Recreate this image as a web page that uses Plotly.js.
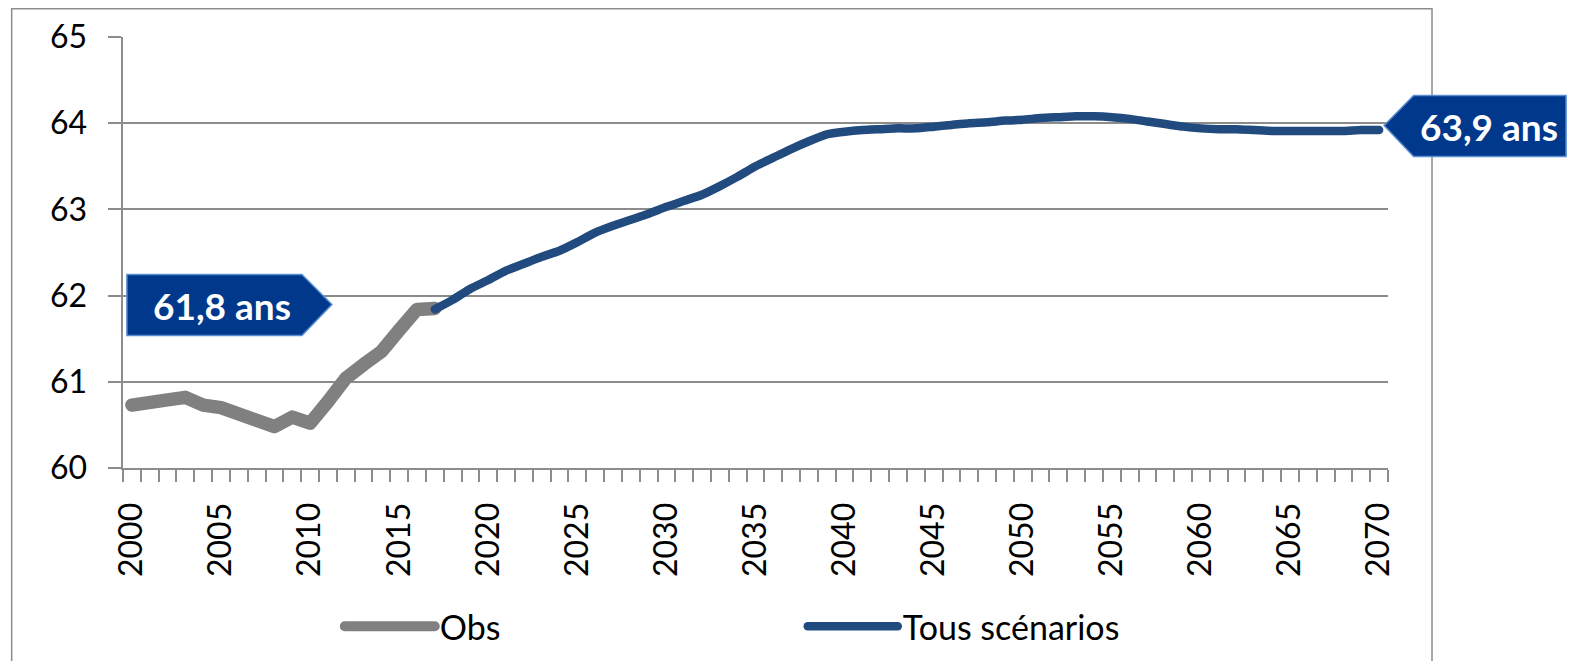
<!DOCTYPE html>
<html>
<head>
<meta charset="utf-8">
<script src="https://cdn.plot.ly/plotly-3.0.1.min.js"></script>
<style>
  html, body { margin: 0; padding: 0; background: #fff; }
  #chart { width: 1579px; height: 661px; }
  .scatterlayer .js-line { stroke-linecap: round; stroke-linejoin: round; }
  .legendlines path { stroke-linecap: round; }
</style>
</head>
<body>
<div id="chart"></div>
<script>
// ---- Data ----
const yearsObs = [2000,2001,2002,2003,2004,2005,2006,2007,2008,2009,2010,2011,2012,2013,2014,2015,2016,2017];
const obsValues = [60.73,60.78,60.79,60.82,60.73,60.70,60.63,60.58,60.48,60.59,60.52,60.77,61.04,61.20,61.35,61.60,61.84,61.85];

const yearsProj = [2017,2018,2019,2020,2021,2022,2023,2024,2025,2026,2027,2028,2029,2030,
  2031,2032,2033,2034,2035,2036,2037,2038,2039,2040,2041,2042,2043,2044,2045,2046,2047,2048,
  2049,2050,2051,2052,2053,2054,2055,2056,2057,2058,2059,2060,2061,2062,2063,2064,2065,2066,
  2067,2068,2069,2070];
const projValues = [61.84,61.95,62.08,62.18,62.29,62.37,62.45,62.52,62.62,62.73,62.81,62.88,62.95,63.03,
  63.10,63.17,63.27,63.38,63.50,63.60,63.70,63.79,63.87,63.90,63.92,63.93,63.94,63.94,63.96,63.98,64.00,64.01,
  64.03,64.04,64.06,64.07,64.08,64.08,64.07,64.05,64.02,63.99,63.96,63.94,63.93,63.93,63.92,63.91,63.91,63.91,
  63.91,63.91,63.92,63.92];

const xTickVals = [2000,2005,2010,2015,2020,2025,2030,2035,2040,2045,2050,2055,2060,2065,2070];
const xTickText = ["2000","2005","2010","2015","2020","2025","2030","2035","2040","2045","2050","2055","2060","2065","2070"];
const yTickVals = [60,61,62,63,64,65];
const yTickText = ["60","61","62","63","64","65"];

const seriesNames = ["Obs", "Tous scénarios"];
const calloutLeft = "61,8 ans";
const calloutRight = "63,9 ans";

// ---- Layout constants ----
const W = 1579, H = 661;
const mL = 123.3, mR = 191, mT = 37.3, mB = 192.7;
const plotW = W - mL - mR, plotH = H - mT - mB;
const xRange = [1999.5, 2070.5];
const yRange = [60, 65];
const px2paperX = p => (p - mL) / plotW;
const px2paperY = p => 1 - (p - mT) / plotH;
const data2paperX = v => (v - xRange[0]) / (xRange[1] - xRange[0]);
const data2paperY = v => (v - yRange[0]) / (yRange[1] - yRange[0]);

const FONT = "Lato, 'Open Sans', sans-serif";
const GRID = "#8c8c8c";
const BOXFILL = "#00388c";
const BOXLINE = "#5a8ed0";

const traces = [
  {
    x: yearsObs, y: obsValues, name: seriesNames[0], type: "scatter", mode: "lines",
    line: { color: "#808080", width: 13.5 }, hoverinfo: "x+y"
  },
  {
    x: yearsProj, y: projValues, name: seriesNames[1], type: "scatter", mode: "lines",
    line: { color: "#214a7e", width: 8.5, shape: "spline", smoothing: 0.5 }, hoverinfo: "x+y"
  }
];

const lastObsY = obsValues[obsValues.length - 1];
const lastProjX = yearsProj[yearsProj.length - 1];
const lastProjY = projValues[projValues.length - 1];

const layout = {
  width: W, height: H,
  margin: { l: mL, r: mR, t: mT, b: mB, pad: 0, autoexpand: false },
  paper_bgcolor: "#ffffff", plot_bgcolor: "#ffffff",
  font: { family: FONT, size: 32, color: "#000000" },
  showlegend: true,
  legend: {
    orientation: "h", x: px2paperX(340), xanchor: "left",
    y: px2paperY(627), yanchor: "middle",
    font: { family: FONT, size: 34, color: "#000" },
    itemwidth: 90, entrywidth: 358, entrywidthmode: "pixels",
    bgcolor: "rgba(0,0,0,0)", traceorder: "normal"
  },
  xaxis: {
    range: xRange, type: "linear", fixedrange: true, automargin: false,
    tickmode: "array", tickvals: xTickVals, ticktext: xTickText,
    tickangle: -90, ticks: "", ticklabelstandoff: 20,
    showgrid: false, zeroline: false,
    showline: true, linecolor: GRID, linewidth: 2,
    tickfont: { family: FONT, size: 32, color: "#000" },
    minor: { ticks: "outside", tick0: 1999.5, dtick: 1, ticklen: 12, tickwidth: 2, tickcolor: GRID, showgrid: false }
  },
  yaxis: {
    range: yRange, fixedrange: true, automargin: false,
    tickmode: "array", tickvals: yTickVals, ticktext: yTickText,
    ticks: "outside", ticklen: 12.6, tickwidth: 2, tickcolor: GRID,
    ticklabelstandoff: 15,
    showgrid: true, gridcolor: GRID, gridwidth: 2,
    zeroline: false, showline: true, linecolor: GRID, linewidth: 2,
    tickfont: { family: FONT, size: 32, color: "#000" }
  },
  shapes: [
    // outer chart border
    {
      type: "rect", xref: "paper", yref: "paper", layer: "below",
      x0: px2paperX(12), x1: px2paperX(1432), y0: px2paperY(700), y1: px2paperY(9),
      line: { color: "#8c8c8c", width: 1.5 }, fillcolor: "rgba(0,0,0,0)"
    },
    // left callout (points right)
    {
      type: "path", xref: "paper", yref: "paper", layer: "above",
      xsizemode: "pixel", ysizemode: "pixel",
      xanchor: data2paperX(yearsObs[0]), yanchor: data2paperY(lastObsY),
      path: "M -5,34 L 170,34 L 200,4 L 170,-27 L -5,-27 Z",
      fillcolor: BOXFILL, line: { color: BOXLINE, width: 1.5 }
    },
    // right callout (points left)
    {
      type: "path", xref: "paper", yref: "paper", layer: "above",
      xsizemode: "pixel", ysizemode: "pixel",
      xanchor: data2paperX(lastProjX), yanchor: data2paperY(lastProjY),
      path: "M 5,4.5 L 34.5,34.5 L 187,34.5 L 187,-26.5 L 34.5,-26.5 Z",
      fillcolor: BOXFILL, line: { color: BOXLINE, width: 1.5 }
    }
  ],
  annotations: [
    {
      xref: "x", yref: "y", x: yearsObs[0], y: lastObsY,
      xshift: 90, yshift: 3.5, showarrow: false,
      text: "<b>" + calloutLeft + "</b>", xanchor: "center", yanchor: "middle",
      font: { family: FONT, size: 37, color: "#ffffff" }
    },
    {
      xref: "x", yref: "y", x: lastProjX, y: lastProjY,
      xshift: 110, yshift: 4, showarrow: false,
      text: "<b>" + calloutRight + "</b>", xanchor: "center", yanchor: "middle",
      font: { family: FONT, size: 37, color: "#ffffff" }
    }
  ]
};

Plotly.newPlot("chart", traces, layout, { displayModeBar: false, staticPlot: true });
</script>
</body>
</html>
